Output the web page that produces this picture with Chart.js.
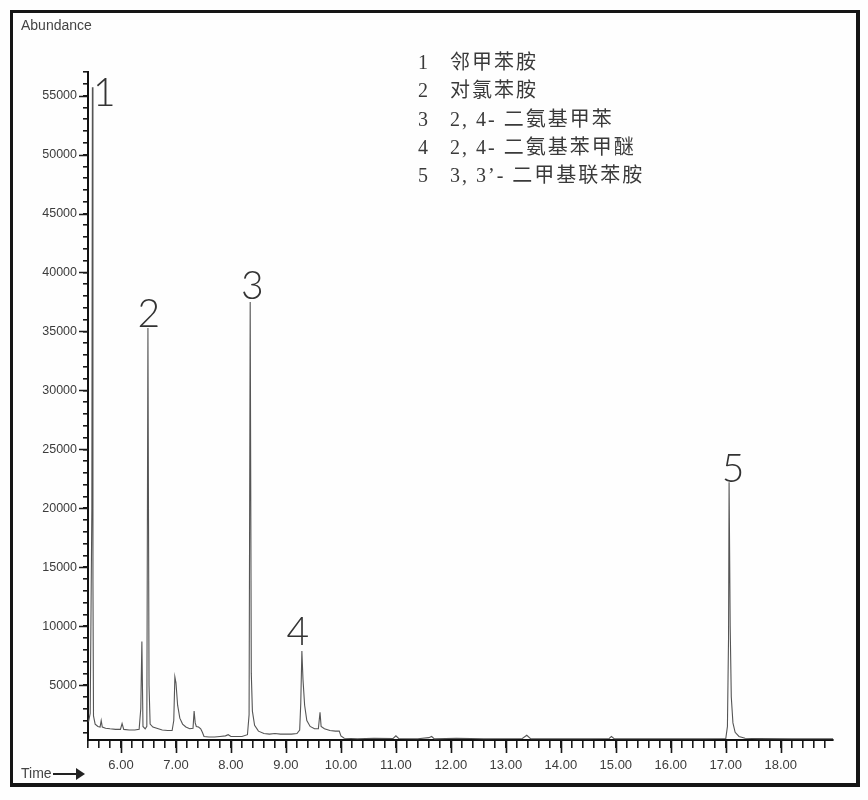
<!DOCTYPE html>
<html lang="zh">
<head>
<meta charset="utf-8">
<script src="https://cdn.jsdelivr.net/npm/chart.js@4.4.1/dist/chart.umd.min.js"></script>
<style>
    html, body {
        margin: 0;
        background: #fefefe;
    }
    #wrap {
        position: relative;
        width: 868px;
        height: 800px;
    }
    #frame {
        position: absolute;
        left: 10px;
        top: 10px;
        width: 843px;
        height: 770px;
        border-style: solid;
        border-color: #151515;
        border-width: 3px 4px 4px 3px;
    }
    #chart {
        position: absolute;
        left: 0;
        top: 0;
    }
    .ylabel {
        position: absolute;
        left: 21px;
        top: 17px;
        font: 14px "Liberation Sans", Arial, sans-serif;
        color: #444;
    }
    .xlabel {
        position: absolute;
        left: 21px;
        top: 765px;
        font: 14px "Liberation Sans", Arial, sans-serif;
        color: #444;
    }
    .arrow {
        display: inline-block;
        position: relative;
        width: 24px;
        height: 2px;
        background: #222;
        vertical-align: middle;
        margin-left: 1px;
    }
    .arrow:after {
        content: "";
        position: absolute;
        right: -8px;
        top: -5px;
        border-left: 9px solid #222;
        border-top: 6px solid transparent;
        border-bottom: 6px solid transparent;
    }
    #legend {
        position: absolute;
        left: 418px;
        top: 48px;
        font: 20px "Liberation Serif", "Noto Sans CJK SC", serif;
        color: #3a3a3a;
        line-height: 28.3px;
        letter-spacing: 2px;
        white-space: pre;
    }
    #legend .num {
        display: inline-block;
        width: 32px;
    }
</style>
</head>
<body>
<div id="wrap">
    <canvas id="chart" width="868" height="800"></canvas>
    <div id="frame"></div>
    <div class="ylabel">Abundance</div>
    <div class="xlabel">Time<span class="arrow"></span></div>
    <div id="legend"></div>
</div>
<script>

    // retention time (min) and abundance of the trace
    const times = [
        5.41, 5.44, 5.47, 5.48, 5.49, 5.50, 5.53, 5.58, 5.62, 5.64, 5.66, 5.72, 5.80, 5.90, 5.99,
        6.02, 6.05, 6.15, 6.25, 6.33, 6.36, 6.38, 6.40, 6.44, 6.47, 6.49, 6.51, 6.53, 6.58, 6.65,
        6.75, 6.85, 6.93, 6.96, 6.98, 7.00, 7.03, 7.07, 7.12, 7.18, 7.25, 7.31, 7.33, 7.35, 7.37,
        7.41, 7.45, 7.48, 7.51, 7.60, 7.70, 7.80, 7.90, 7.95, 8.00, 8.10, 8.20, 8.30, 8.33, 8.35,
        8.37, 8.39, 8.43, 8.50, 8.60, 8.70, 8.80, 8.90, 9.00, 9.10, 9.20, 9.25, 9.27, 9.29, 9.31,
        9.34, 9.38, 9.44, 9.52, 9.59, 9.62, 9.64, 9.70, 9.80, 9.90, 9.97, 10.00, 10.06, 10.30, 10.60,
        10.95, 11.00, 11.05, 11.40, 11.60, 11.65, 11.70, 12.10, 12.60, 13.30, 13.38, 13.45, 14.00, 14.50, 14.88,
        14.92, 14.97, 15.50, 16.00, 16.60, 17.00, 17.03, 17.05, 17.06, 17.08, 17.10, 17.13, 17.17, 17.24, 17.35,
        17.60, 18.20, 18.95
    ];
    const abundance = [
        1900, 2600, 20000, 55700, 14000, 2400, 1700, 1500, 1450, 2000, 1450, 1350, 1300, 1250, 1250,
        1750, 1250, 1200, 1200, 1250, 3000, 8700, 1500, 1300, 1500, 35300, 5000, 1700, 1450, 1350,
        1200, 1150, 1150, 2000, 5700, 5200, 3300, 2200, 1700, 1450, 1300, 1350, 2800, 1800, 1500,
        1450, 1300, 1000, 650, 600, 600, 650, 700, 800, 650, 650, 650, 800, 2500, 37500,
        6000, 2800, 1600, 1100, 900, 850, 900, 850, 850, 850, 900, 1200, 3500, 7900, 5500,
        3300, 2000, 1500, 1300, 1300, 2700, 1500, 1300, 1150, 1100, 1100, 700, 500, 450, 500,
        480, 700, 480, 450, 550, 650, 450, 500, 450, 480, 750, 470, 450, 450, 480,
        650, 460, 450, 450, 450, 480, 1500, 9000, 22200, 10000, 4000, 1800, 1000, 650, 500,
        470, 450, 450
    ];

    // peak numbers and where they sit
    const peakLabels = ['1', '2', '3', '4', '5'];
    const peakTimes = [5.48, 6.49, 8.35, 9.29, 17.06];
    const peakTops = [55700, 35300, 37500, 7900, 22200];

    // legend entries
    const compounds = ['邻甲苯胺', '对氯苯胺', '2, 4- 二氨基甲苯', '2, 4- 二氨基苯甲醚', '3, 3’- 二甲基联苯胺'];

    // axis ranges and labelled ticks
    const xMin = 5.4, xMax = 18.95;
    const yMin = 350, yMax = 57000;
    const xLabelValues = [6, 7, 8, 9, 10, 11, 12, 13, 14, 15, 16, 17, 18];
    const yLabelValues = [5000, 10000, 15000, 20000, 25000, 30000, 35000, 40000, 45000, 50000, 55000];

    document.getElementById('legend').innerHTML = compounds.map(function (c, i) {
        return '<span class="num">' + (i + 1) + '</span>' + c;
    }).join('\n');

    function isXMajor(v) {
        return xLabelValues.some(function (m) { return Math.abs(m - v) < 1e-6; });
    }

    function isYMajor(v) {
        return yLabelValues.indexOf(v) >= 0;
    }

    // longer ticks on labelled values + peak numbers
    const extrasPlugin = {
        id: 'extras',
        afterDraw: function (chart) {
            const ctx = chart.ctx;
            const xs = chart.scales.x;
            const ys = chart.scales.y;
            const area = chart.chartArea;
            ctx.save();
            ctx.strokeStyle = '#1a1a1a';
            ctx.lineWidth = 1.6;
            ctx.beginPath();
            xs.ticks.forEach(function (t) {
                if (isXMajor(t.value)) {
                    const px = Math.round(xs.getPixelForValue(t.value)) + 0.5;
                    ctx.moveTo(px, area.bottom);
                    ctx.lineTo(px, area.bottom + 13);
                }
            });
            ys.ticks.forEach(function (t) {
                if (isYMajor(t.value)) {
                    const py = Math.round(ys.getPixelForValue(t.value)) + 0.5;
                    ctx.moveTo(area.left - 9, py);
                    ctx.lineTo(area.left, py);
                }
            });
            ctx.stroke();

            // peak numbers, offset from each peak top
            const offsets = [[12, 5], [1, -15], [2, -17], [-4, -20], [4, -14]];
            ctx.fillStyle = '#333';
            ctx.font = '300 39px Lato, "Liberation Sans", sans-serif';
            ctx.textAlign = 'center';
            ctx.textBaseline = 'alphabetic';
            peakLabels.forEach(function (lab, i) {
                const px = xs.getPixelForValue(peakTimes[i]) + offsets[i][0];
                const py = ys.getPixelForValue(peakTops[i]) + offsets[i][1];
                ctx.fillText(lab, px, py + 14);
            });
            ctx.restore();
        }
    };

    const ctx = document.getElementById('chart');

    const chart = new Chart(ctx, {
        type: 'scatter',
        data: {
            datasets: [{
                data: times.map(function (t, i) { return { x: t, y: abundance[i] }; }),
                showLine: true,
                borderColor: '#555',
                borderWidth: 1.1,
                pointRadius: 0,
                tension: 0
            }]
        },
        options: {
            responsive: false,
            animation: false,
            layout: {
                padding: { left: 0, right: 35, top: 72, bottom: 0 }
            },
            plugins: {
                legend: { display: false },
                tooltip: { enabled: false }
            },
            scales: {
                x: {
                    type: 'linear',
                    min: xMin,
                    max: xMax,
                    afterBuildTicks: function (scale) {
                        const ticks = [];
                        for (let i = 27; i <= 94; i++) {
                            ticks.push({ value: i / 5 });
                        }
                        scale.ticks = ticks;
                    },
                    afterFit: function (scale) {
                        scale.height = 60;
                    },
                    ticks: {
                        autoSkip: false,
                        maxRotation: 0,
                        padding: 10,
                        color: '#3c3c3c',
                        font: { family: '"Liberation Sans", Arial, sans-serif', size: 13 },
                        callback: function (v) {
                            return isXMajor(v) ? Math.round(v).toFixed(2) : '';
                        }
                    },
                    grid: {
                        drawOnChartArea: false,
                        drawTicks: true,
                        tickLength: 8,
                        color: '#1a1a1a',
                        lineWidth: 1.6
                    },
                    border: { display: true, color: '#111', width: 2 }
                },
                y: {
                    type: 'linear',
                    min: yMin,
                    max: yMax,
                    afterBuildTicks: function (scale) {
                        const ticks = [];
                        for (let v = 1000; v <= 57000; v += 1000) {
                            ticks.push({ value: v });
                        }
                        scale.ticks = ticks;
                    },
                    afterFit: function (scale) {
                        scale.width = 88;
                    },
                    ticks: {
                        autoSkip: false,
                        padding: 6,
                        color: '#3c3c3c',
                        font: { family: '"Liberation Sans", Arial, sans-serif', size: 12.5 },
                        callback: function (v) {
                            return isYMajor(v) ? String(v) : '';
                        }
                    },
                    grid: {
                        drawOnChartArea: false,
                        drawTicks: true,
                        tickLength: 5,
                        color: '#1a1a1a',
                        lineWidth: 1.6
                    },
                    border: { display: true, color: '#111', width: 2 }
                }
            }
        },
        plugins: [extrasPlugin]
    });

</script>
</body>
</html>
